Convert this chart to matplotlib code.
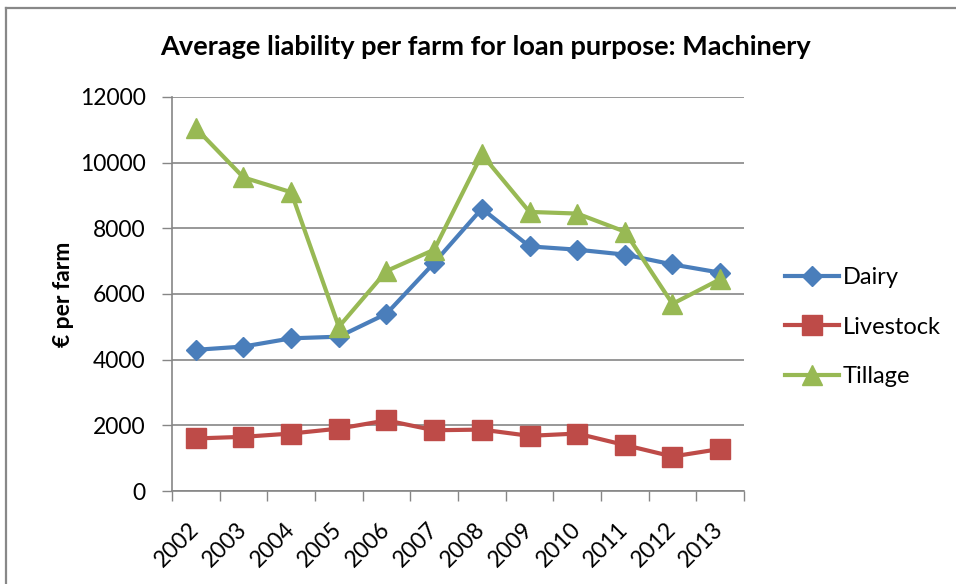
import matplotlib
matplotlib.use("Agg")
import matplotlib.pyplot as plt
from matplotlib.lines import Line2D
import numpy as np

years = ["2002", "2003", "2004", "2005", "2006", "2007",
         "2008", "2009", "2010", "2011", "2012", "2013"]
dairy = [4300, 4400, 4650, 4700, 5400, 6950, 8600, 7450, 7350, 7200, 6900, 6650]
livestock = [1600, 1650, 1750, 1900, 2150, 1850, 1870, 1680, 1750, 1400, 1050, 1280]
tillage = [11050, 9550, 9100, 5000, 6700, 7350, 10250, 8500, 8450, 7900, 5700, 6450]
yticks = [0, 2000, 4000, 6000, 8000, 10000, 12000]

plt.rcParams['font.family'] = ['Lato', 'DejaVu Sans']

W, H = 956, 584
fig = plt.figure(figsize=(W / 100, H / 100), dpi=100)
ax = fig.add_axes([172 / W, 1 - 491 / H, (744 - 172) / W, (491 - 97) / H])

x = np.arange(len(years))
grey = '#868686'
ax.plot(x, dairy, color='#4A7EBB', lw=3, marker='D', ms=10.5, label='Dairy', zorder=3)
ax.plot(x, livestock, color='#BE4B48', lw=3, marker='s', ms=14, label='Livestock', zorder=3)
ax.plot(x, tillage, color='#98B954', lw=3, marker='^', ms=15, label='Tillage', zorder=3)

ax.set_xlim(-0.5, len(years) - 0.5)
ax.set_ylim(0, 12000)
ax.set_yticks(yticks)
ax.set_yticklabels([str(v) for v in yticks], fontsize=16.5)
ax.yaxis.grid(True, color=grey, lw=1.2)
ax.set_axisbelow(True)
ax.tick_params(axis='y', length=7, color=grey, width=1, pad=12)

ax.set_xticks(x)
ax.set_xticklabels(years, fontsize=16.5)
ax.tick_params(axis='x', which='major', length=0, pad=25)
ax.set_xticks(np.arange(-0.5, len(years)), minor=True)
ax.tick_params(axis='x', which='minor', length=7, color=grey, width=1)
for lab in ax.get_xticklabels():
    lab.set_rotation(45)
    lab.set_ha('right')
    lab.set_va('center')
    lab.set_rotation_mode('anchor')

for s in ['top', 'right']:
    ax.spines[s].set_visible(False)
for s in ['left', 'bottom']:
    ax.spines[s].set_color(grey)
    ax.spines[s].set_linewidth(1.2)

ax.set_ylabel('€ per farm', fontsize=16.5, fontweight='bold', labelpad=4)

fig.text(485 / W, 1 - 47 / H, 'Average liability per farm for loan purpose: Machinery',
         ha='center', va='center', fontsize=19.5, fontweight='bold')

leg = fig.legend(loc='center left', bbox_to_anchor=(785 / W, 1 - 327 / H),
                 frameon=False, fontsize=17, handlelength=2.3, handletextpad=0.15,
                 labelspacing=1.2, borderpad=0, borderaxespad=0)

# outer chart frame
fig.add_artist(Line2D([6 / W, 6 / W], [0, 1 - 8 / H], color='#888888', lw=1.6))
fig.add_artist(Line2D([6 / W, 1], [1 - 8 / H, 1 - 8 / H], color='#888888', lw=1.6))

fig.savefig('out.png', dpi=100)
